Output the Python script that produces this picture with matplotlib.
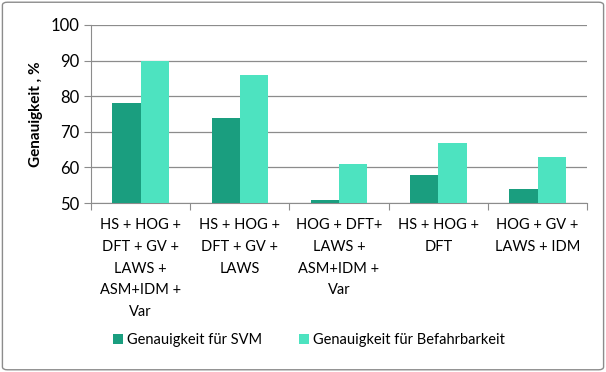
import numpy as np
import matplotlib.pyplot as plt
from matplotlib.patches import FancyBboxPatch

plt.rcParams['font.family'] = ['Lato', 'DejaVu Sans']

categories = [
    "HS + HOG +\nDFT + GV +\nLAWS +\nASM+IDM +\nVar",
    "HS + HOG +\nDFT + GV +\nLAWS",
    "HOG + DFT+\nLAWS +\nASM+IDM +\nVar",
    "HS + HOG +\nDFT",
    "HOG + GV +\nLAWS + IDM",
]
svm = [78, 74, 51, 58, 54]
befahrbarkeit = [90, 86, 61, 67, 63]
yticks = [50, 60, 70, 80, 90, 100]

fig = plt.figure(figsize=(6.06, 3.72), dpi=100)
ax = fig.add_axes([0.150, 0.454, 0.819, 0.479])

x = np.arange(len(categories))
w = 0.285
ax.bar(x - w / 2, svm, w, color="#1a9e7f", label="Genauigkeit für SVM", zorder=3)
ax.bar(x + w / 2, befahrbarkeit, w, color="#4de3c0", label="Genauigkeit für Befahrbarkeit", zorder=3)

ax.set_ylim(50, 100)
ax.set_xlim(-0.5, len(categories) - 0.5)
ax.set_yticks(yticks)
ax.yaxis.grid(True, color="#8c8c8c", linewidth=0.9, zorder=0)
ax.set_xticks(np.arange(-0.5, len(categories), 1.0))
ax.set_xticklabels([])
ax.set_xticks(x, minor=True)
ax.set_xticklabels(categories, minor=True, fontsize=10.5, linespacing=1.7, va="top")
ax.tick_params(axis="x", which="minor", length=0, pad=11)
ax.tick_params(axis="x", which="major", length=5, color="#8c8c8c")
ax.tick_params(axis="y", length=5, color="#8c8c8c", labelsize=12, pad=3)
for s in ["top", "right"]:
    ax.spines[s].set_visible(False)
for s in ["left", "bottom"]:
    ax.spines[s].set_color("#8c8c8c")
ax.set_ylabel("Genauigkeit , %", fontsize=11, fontweight="bold", labelpad=6)

fig.legend(loc="center", bbox_to_anchor=(0.51, 0.085), ncol=2, frameon=False,
           fontsize=10.5, handlelength=0.7, handleheight=0.7, handletextpad=0.3,
           columnspacing=2.5)

border = FancyBboxPatch((0.004, 0.006), 0.992, 0.988, boxstyle="round,pad=0,rounding_size=0.008",
                        transform=fig.transFigure, fill=False, edgecolor="#8c8c8c", linewidth=1)
fig.patches.append(border)

fig.savefig("out.png", dpi=100)
